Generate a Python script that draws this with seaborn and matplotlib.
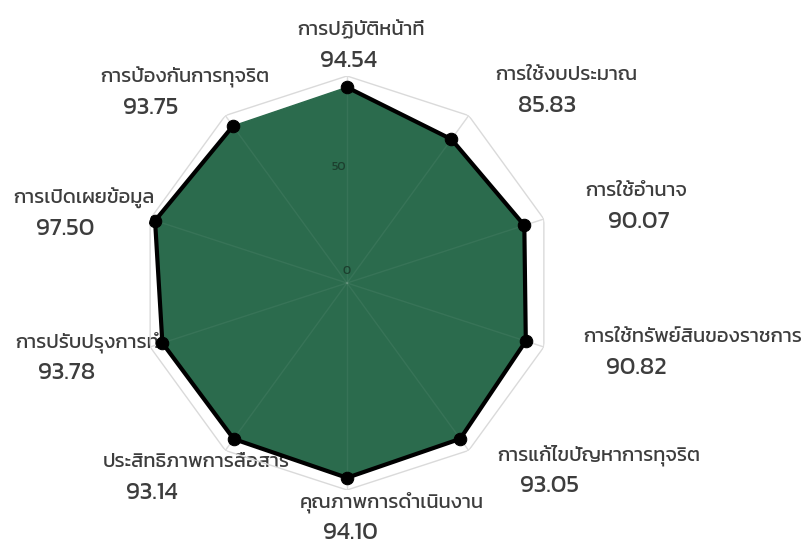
import numpy as np
import pandas as pd
import matplotlib
matplotlib.use("Agg")
import matplotlib.pyplot as plt
from matplotlib import font_manager as fm
import seaborn as sns

# ข้อมูลคะแนนแต่ละตัวชี้วัด (เรียงตามเข็มนาฬิกา เริ่มจากด้านบน)
categories = ['การปฏิบัติหน้าที่', 'การใช้งบประมาณ', 'การใช้อำนาจ',
              'การใช้ทรัพย์สินของราชการ', 'การแก้ไขปัญหาการทุจริต',
              'คุณภาพการดำเนินงาน', 'ประสิทธิภาพการสื่อสาร',
              'การปรับปรุงการทำงาน', 'การเปิดเผยข้อมูล', 'การป้องกันการทุจริต']
scores = [94.54, 85.83, 90.07, 90.82, 93.05, 94.10, 93.14, 93.78, 97.50, 93.75]
radial_ticks = [0, 50, 100]
radial_tick_labels = ['0', '50', '']

# ตำแหน่งป้าย (พิกเซล: ขอบซ้าย, กึ่งกลางบรรทัดชื่อ)
label_px = [(297, 30), (495, 75), (585, 191), (583, 337), (497, 455),
            (300, 502), (103, 462), (15, 342), (13, 198), (100, 77)]

sns.set_theme(style="white")
names = {f.name for f in fm.fontManager.ttflist}
thai = next((f for f in ['Kanit', 'Prompt', 'Noto Sans Thai', 'Athiti', 'Loma'] if f in names), 'DejaVu Sans')
plt.rcParams['font.family'] = [thai, 'DejaVu Sans']

W, H = 802, 547
fig = plt.figure(figsize=(W / 100, H / 100), dpi=100)
cx, cy, R = 347, 283, 207
ax = fig.add_axes([(cx - R) / W, (H - cy - R) / H, 2 * R / W, 2 * R / H], projection='polar')
ax.set_theta_offset(np.pi / 2)
ax.set_theta_direction(-1)

n = len(categories)
theta = np.linspace(0, 2 * np.pi, n, endpoint=False)
df = pd.DataFrame({'theta': np.append(theta, theta[0]), 'score': scores + scores[:1]})

# กริดแบบหลายเหลี่ยม
for r in radial_ticks[1:]:
    ax.plot(df['theta'], [r] * len(df), color='#dadada', lw=1, zorder=1)
for t in theta:
    ax.plot([t, t], [0, 100], color='#dadada', lw=1, zorder=1)

ax.fill(df['theta'], df['score'], color='#2b6b4d', zorder=2)
for t in theta:
    ax.plot([t, t], [0, 100], color='white', alpha=0.06, lw=1, zorder=3)
sns.lineplot(data=df, x='theta', y='score', sort=False, ax=ax, color='black',
             lw=3, marker='o', markersize=9, markeredgecolor='black', zorder=4)

for r, lab in zip(radial_ticks, radial_tick_labels):
    ax.text(np.deg2rad(-4), r + 6, lab, ha='center', va='center', fontsize=9,
            color='#1c3f2e', zorder=5)

ax.set_ylim(0, 100)
ax.set_xticks([])
ax.set_yticks([])
ax.grid(False)
ax.spines['polar'].set_visible(False)
ax.set_xlabel('')
ax.set_ylabel('')
ax.patch.set_alpha(0)

# ป้ายอยู่ใต้รูปหลายเหลี่ยม เหมือนภาพต้นฉบับ
for (x, y), name, v in zip(label_px, categories, scores):
    fig.text(x / W, 1 - y / H, name, ha='left', va='center', fontsize=14.5,
             color='#3d3d3d', zorder=-1)
    fig.text((x + 23) / W, 1 - (y + 31) / H, f"{v:.2f}", ha='left', va='center',
             fontsize=17.5, color='#3d3d3d', zorder=-1)

fig.savefig('out.png', dpi=100)
